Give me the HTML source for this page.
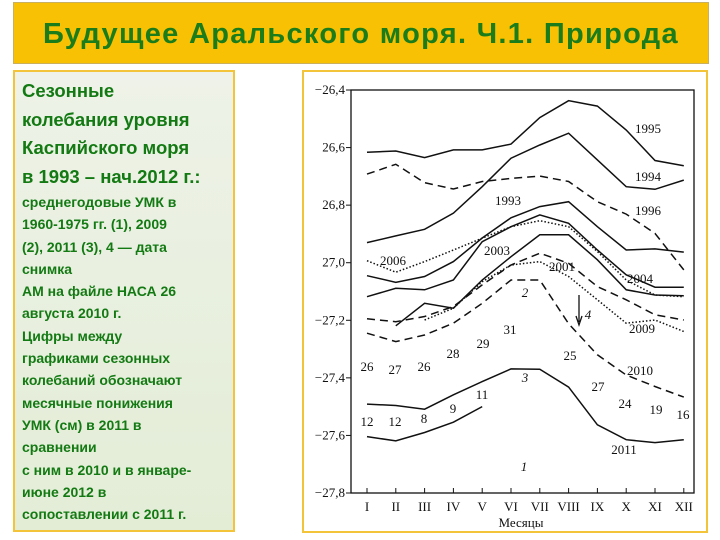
<!DOCTYPE html>
<html><head><meta charset="utf-8">
<style>
body{margin:0;width:720px;height:540px;background:#fff;position:relative;overflow:hidden;font-family:"Liberation Sans","DejaVu Sans",sans-serif}
#title{position:absolute;left:13px;top:2px;width:696px;height:62px;background:#f8c103;border:1px solid #c8b060;box-sizing:border-box;color:#1a7c1a;font-weight:bold;font-size:29px;letter-spacing:1.3px;text-align:center;line-height:62px}
#leftbox{position:absolute;left:13px;top:70px;width:222px;height:462px;background:linear-gradient(#eef2e8,#e3edd6);border:2px solid #f3c43a;box-sizing:border-box;color:#137a13;font-weight:bold;padding:5px 0 0 7px}
#leftbox .big{font-size:18.5px;line-height:28.5px}
#leftbox .small{font-size:14px;line-height:22.3px;margin-top:0px}
#chartbox{position:absolute;left:302px;top:70px;width:406px;height:463px;border:2px solid #f3c43a;box-sizing:border-box;background:#fff}
svg{position:absolute;left:0;top:0}
</style></head><body>
<div id="title">Будущее Аральского моря. Ч.1. Природа</div>
<div id="leftbox">
<div class="big">Сезонные<br>колебания уровня<br>Каспийского моря<br>в 1993 – нач.2012 г.:</div>
<div class="small">среднегодовые УМК в<br>1960-1975 гг. (1), 2009<br>(2), 2011 (3), 4 — дата<br>снимка<br>АМ на файле НАСА 26<br>августа 2010 г.<br>Цифры между<br>графиками сезонных<br>колебаний обозначают<br>месячные понижения<br>УМК (см) в 2011 в<br>сравнении<br>с ним в 2010 и в январе-<br>июне 2012 в<br>сопоставлении с 2011 г.</div>
</div>
<div id="chartbox"></div>
<svg id="chart" width="720" height="540"></svg>
<script>
const months=["I","II","III","IV","V","VI","VII","VIII","IX","X","XI","XII"];
const yTicks=[26.4,26.6,26.8,27.0,27.2,27.4,27.6,27.8];
const yTickLabels=["−26,4","26,6","26,8","27,0","−27,2","−27,4","−27,6","−27,8"];
const s1995=[26.616,26.612,26.635,26.608,26.608,26.588,26.496,26.437,26.456,26.539,26.645,26.663];
const s1994=[26.930,26.907,26.884,26.828,26.736,26.637,26.591,26.550,26.643,26.736,26.745,26.713];
const s1996=[26.692,26.658,26.722,26.744,26.718,26.707,26.699,26.718,26.788,26.831,26.898,27.025];
const s1993=[27.045,27.068,27.048,26.996,26.914,26.844,26.805,26.788,26.875,26.956,26.952,26.963];
const s2004=[27.118,27.089,27.094,27.060,26.927,26.875,26.834,26.863,26.956,27.042,27.085,27.085];
const s2006=[26.993,27.033,26.996,26.956,26.915,26.875,26.854,26.875,26.961,27.060,27.112,27.118];
const s2003=[null,27.219,27.141,27.158,27.060,26.979,26.903,26.903,26.990,27.094,27.112,27.115];
const s2001=[27.195,27.205,27.187,27.152,27.077,27.008,26.967,27.002,27.083,27.129,27.181,27.199];
const s2009=[null,null,27.199,27.158,27.066,27.008,26.996,27.048,27.129,27.210,27.199,27.239];
const s2010=[27.245,27.274,27.251,27.210,27.141,27.060,27.060,27.212,27.320,27.390,27.430,27.467];
const s2011=[27.491,27.496,27.509,27.459,27.413,27.369,27.370,27.432,27.563,27.615,27.625,27.615];
const s2012=[27.604,27.619,27.590,27.554,27.500,null,null,null,null,null,null,null];
const diffValues=["26","27","26","28","29","31","25","27","24","19","16"];
const diffLow=["12","12","8","9","11"];

const svg=document.getElementById('chart');
const NS="http://www.w3.org/2000/svg";
const X0=351,X1=694,Y0=90,Y1=493;
function xm(i){return 367+i*28.8;}
function yv(v){return Y0+(v-26.4)/(27.8-26.4)*(Y1-Y0);}
function mk(t,a){const e=document.createElementNS(NS,t);for(const k in a)e.setAttribute(k,a[k]);svg.appendChild(e);return e;}
function txt(x,y,s,anchor,size,italic){const e=mk('text',{x:x,y:y,'text-anchor':anchor||'middle','font-size':size||12,'font-family':'Liberation Serif, serif',fill:'#111'});if(italic)e.setAttribute('font-style','italic');e.textContent=s;return e;}

const frame=mk('rect',{x:X0,y:Y0,width:X1-X0,height:Y1-Y0,fill:'none',stroke:'#111','stroke-width':1.3});


yTicks.forEach((v,i)=>{
  const l=mk('line',{x1:X0-5,x2:X0,y1:yv(v),y2:yv(v),stroke:'#111'});
  
  
  const t=txt(X0-6,yv(v)+4,yTickLabels[i],'end',13);
  
  
});
months.forEach((m,i)=>{
  const l=mk('line',{x1:xm(i),x2:xm(i),y1:Y1,y2:Y1-5,stroke:'#111'});
  
  
  const t=txt(xm(i),511,m,'middle',13);
  
  
});
const xt=txt(521,527,'Месяцы','middle',13);



function series(arr,name,dash){
  let d='';let pen=false;
  arr.forEach((v,i)=>{if(v===null){pen=false;return;}d+=(pen?'L':'M')+xm(i).toFixed(1)+' '+yv(v).toFixed(1)+' ';pen=true;});
  const p=mk('path',{d:d,fill:'none',stroke:'#111','stroke-width':1.5});
  if(dash)p.setAttribute('stroke-dasharray',dash);
  
  
}
series(s1995,'line-1995');
series(s1994,'line-1994');
series(s1996,'line-1996','8 5');
series(s1993,'line-1993');
series(s2004,'line-2004');
series(s2006,'line-2006','1.5 2');
series(s2003,'line-2003');
series(s2001,'line-2001','8 5');
series(s2009,'line-2009','1.5 2');
series(s2010,'line-2010','8 5');
series(s2011,'line-2011');
series(s2012,'line-2012');

const arrow=mk('path',{d:'M579 295 L579 322 M576 316 L579 325 L582 316',stroke:'#111','stroke-width':1.3,fill:'none'});



const labels=[["1995",648,133],["1994",648,181],["1996",648,215],["1993",508,205],["2006",393,265],["2003",497,255],["2001",562,271],["2004",640,283],["2009",642,333],["2010",640,375],["2011",624,454]];
labels.forEach(l=>{const t=txt(l[1],l[2],l[0],'middle',13);
  
  });
const diffPos=[[367,371],[395,374],[424,371],[453,358],[483,348],[510,334],[570,360],[598,391],[625,408],[656,414],[683,419]];
diffValues.forEach((s,i)=>{const t=txt(diffPos[i][0],diffPos[i][1],s,'middle',13);
  
  });
const lowPos=[[367,426],[395,426],[424,423],[453,413],[482,399]];
diffLow.forEach((s,i)=>{const t=txt(lowPos[i][0],lowPos[i][1],s,'middle',13);
  
  });
[["2",525,297],["3",525,382],["1",524,471],["4",588,319]].forEach(l=>{const t=txt(l[1],l[2],l[0],'middle',13,true);
  
  });
</script>
</body></html>
